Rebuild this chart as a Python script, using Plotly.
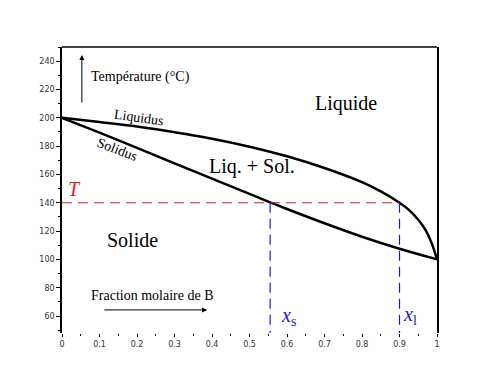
import plotly.graph_objects as go

# Data
liq_x = [0, 0.1, 0.2, 0.3, 0.4, 0.5, 0.6, 0.7, 0.8, 0.85, 0.9, 0.925, 0.95, 0.97, 0.985, 1.0]
liq_y = [200, 197, 193.8, 189.8, 185.2, 179.6, 172.8, 164.5, 154.5, 148, 140, 135, 128, 120.5, 112, 100]
sol_x = [0, 0.1, 0.2, 0.3, 0.4, 0.5, 0.555, 0.6, 0.7, 0.8, 0.9, 1.0]
sol_y = [200, 189.5, 178.7, 167.8, 157, 146.2, 140.3, 135.6, 125.5, 116, 107.5, 100]
T_value = 140
x_s = 0.555
x_l = 0.9
y_min, y_max = 48, 250
x_ticks = [0, 0.1, 0.2, 0.3, 0.4, 0.5, 0.6, 0.7, 0.8, 0.9, 1]
x_tick_labels = ["0", "0.1", "0.2", "0.3", "0.4", "0.5", "0.6", "0.7", "0.8", "0.9", "1"]
y_ticks = [60, 80, 100, 120, 140, 160, 180, 200, 220, 240]

RED = "#d81e1e"
BLUE = "#1a1ac8"
SERIF = "Liberation Serif, Times New Roman, serif"

fig = go.Figure()
fig.add_trace(go.Scatter(x=liq_x, y=liq_y, mode="lines", line=dict(color="black", width=2.5, shape="spline", smoothing=1.0), showlegend=False, hoverinfo="skip"))
fig.add_trace(go.Scatter(x=sol_x, y=sol_y, mode="lines", line=dict(color="black", width=2.5, shape="spline", smoothing=1.0), showlegend=False, hoverinfo="skip"))
fig.add_trace(go.Scatter(x=[0, x_l], y=[T_value, T_value], mode="lines", line=dict(color=RED, width=1.2, dash="10px,6px"), showlegend=False, hoverinfo="skip"))
fig.add_trace(go.Scatter(x=[x_s, x_s], y=[T_value, y_min], mode="lines", line=dict(color=BLUE, width=1.2, dash="10px,6px"), showlegend=False, hoverinfo="skip"))
fig.add_trace(go.Scatter(x=[x_l, x_l], y=[T_value, y_min], mode="lines", line=dict(color=BLUE, width=1.2, dash="10px,6px"), showlegend=False, hoverinfo="skip"))

def txt(x, y, s, size, color="black", angle=0, xanchor="center", yanchor="middle"):
    fig.add_annotation(x=x, y=y, text=s, showarrow=False, textangle=angle,
                       font=dict(family=SERIF, size=size, color=color),
                       xanchor=xanchor, yanchor=yanchor)

txt(0.072, 229, "Température (°C)", 14, xanchor="left")
txt(0.757, 210, "Liquide", 20)
txt(0.507, 165.5, "Liq. + Sol.", 20)
txt(0.187, 114, "Solide", 20)
txt(0.205, 200.5, "Liquidus", 14, angle=8)
txt(0.147, 177.3, "Solidus", 14, angle=21)
txt(0.032, 149.7, "<i>T</i>", 20, color=RED)
txt(0.072, 74.5, "Fraction molaire de B", 14, xanchor="left")
txt(0.603, 60, "<i>x</i><sub>s</sub>", 20, color=BLUE)
txt(0.928, 60.5, "<i>x</i><sub>l</sub>", 20, color=BLUE)

# arrows
fig.add_annotation(x=0.053, y=244.3, ax=0.053, ay=209.7, axref="x", ayref="y", xref="x", yref="y",
                   text="", showarrow=True, arrowhead=2, arrowsize=1, arrowwidth=1, arrowcolor="black")
fig.add_annotation(x=0.387, y=64.3, ax=0.109, ay=64.3, axref="x", ayref="y", xref="x", yref="y",
                   text="", showarrow=True, arrowhead=2, arrowsize=1, arrowwidth=1, arrowcolor="black")

# top frame line
fig.add_shape(type="line", xref="paper", yref="paper", x0=0, x1=1, y0=1, y1=1, line=dict(color="black", width=1.5))

fig.update_xaxes(range=[0, 1], tickvals=x_ticks, ticktext=x_tick_labels, showgrid=False, zeroline=False,
                 showline=False, ticks="outside", ticklen=3, tickcolor="black", tickwidth=1,
                 minor=dict(dtick=0.05, ticks="outside", ticklen=2, tickcolor="black"),
                 tickfont=dict(family="DejaVu Sans, sans-serif", size=8, color="#333"))
fig.update_yaxes(range=[y_min, y_max], tickvals=y_ticks, showgrid=False, zeroline=False,
                 showline=True, linecolor="black", linewidth=1.5, mirror=True,
                 ticks="outside", ticklen=4, tickcolor="black", tickwidth=1,
                 minor=dict(dtick=10, tick0=0, ticks="outside", ticklen=2, tickcolor="black"),
                 tickfont=dict(family="DejaVu Sans, sans-serif", size=8, color="#333"))

fig.update_layout(width=500, height=378, margin=dict(l=54, r=71, t=39, b=53),
                  plot_bgcolor="white", paper_bgcolor="white")
fig.write_html("out.html")
